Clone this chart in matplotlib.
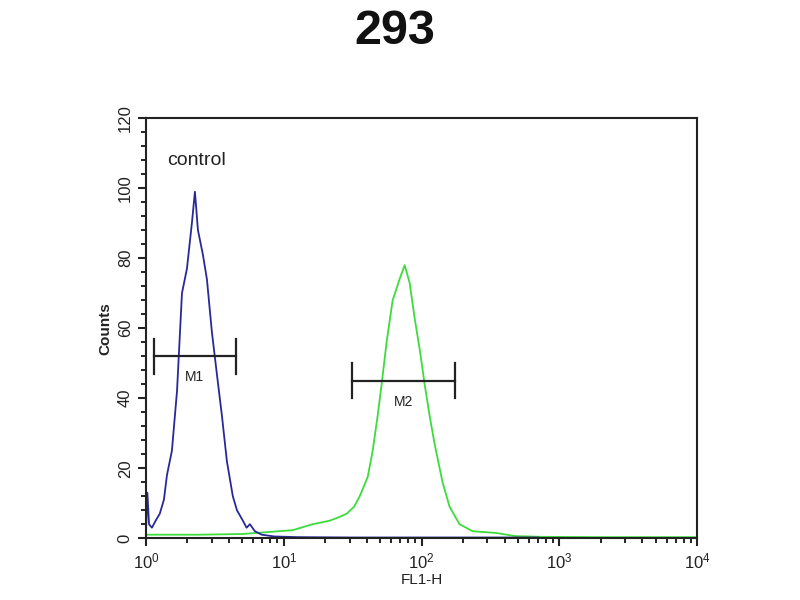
import matplotlib
matplotlib.use("Agg")
import matplotlib.pyplot as plt
from matplotlib.ticker import MultipleLocator, LogLocator, LogFormatterMathtext, NullFormatter
import numpy as np

plt.rcParams['font.family'] = ['Liberation Sans', 'DejaVu Sans']
plt.rcParams['mathtext.fontset'] = 'custom'
plt.rcParams['mathtext.rm'] = 'Liberation Sans'
plt.rcParams['mathtext.it'] = 'Liberation Sans'

title = "293"
x_label = "FL1-H"
y_label = "Counts"
sample_label = "control"

# control histogram (blue): log10 of FL1-H, counts
control_log = [0.0, 0.01, 0.022, 0.043, 0.07, 0.10, 0.13, 0.152, 0.188, 0.225, 0.261, 0.297,
               0.333, 0.355, 0.377, 0.413, 0.442, 0.478, 0.514, 0.551, 0.587, 0.630,
               0.66, 0.703, 0.73, 0.754, 0.79, 0.84, 0.93, 1.1, 1.5, 2.0, 2.5, 2.85]
control_counts = [2, 13, 4, 3, 5, 7, 11, 18, 25, 42, 70, 77,
                  90, 99, 88, 81, 74, 59, 47, 35, 22, 12,
                  8, 5, 3, 4, 2, 1, 0.5, 0.3, 0.2, 0.2, 0.2, 0.2]

# sample histogram (green)
sample_log = [0.0, 0.16, 0.39, 0.70, 0.90, 1.065, 1.21, 1.333, 1.40, 1.457, 1.51, 1.551,
              1.609, 1.645, 1.681, 1.71, 1.746, 1.79, 1.84, 1.877, 1.913,
              1.949, 1.986, 2.022, 2.058, 2.094, 2.152, 2.203, 2.275,
              2.37, 2.54, 2.68, 2.86, 3.29, 4.0]
sample_counts = [1, 1, 1, 1.2, 1.8, 2.3, 4, 5, 6, 7, 9, 12,
                 17.5, 25, 35, 44, 56, 68, 74, 78, 73,
                 63, 54, 44, 35, 27, 16, 9, 4,
                 2, 1.5, 0.6, 0.4, 0.3, 0.3]

# markers: (name, low, high, level)
marker_names = ["M1", "M2"]
marker_low = [1.14, 31]
marker_high = [4.49, 174]
marker_level = [52, 45]

fig = plt.figure(figsize=(8, 6), dpi=100)
ax = fig.add_axes([0.1825, 0.103, 0.689, 0.7])

ax.plot(10 ** np.array(sample_log), sample_counts, color='#3ddc3d', lw=1.3)
ax.plot(10 ** np.array(control_log), control_counts, color='#28289a', lw=1.3)

for name, lo, hi, lev in zip(marker_names, marker_low, marker_high, marker_level):
    ax.plot([lo, hi], [lev, lev], color='#222222', lw=1.6)
    ax.plot([lo, lo], [lev - 5, lev + 5], color='#222222', lw=1.6)
    ax.plot([hi, hi], [lev - 5, lev + 5], color='#222222', lw=1.6)
    ax.text(np.sqrt(lo * hi), lev - 4, name, ha='center', va='top', fontsize=10, color='#222222')

ax.text(1.42, 108, sample_label, fontsize=14, color='#222222', va='center')

ax.set_xscale('log')
ax.set_xlim(1, 1e4)
ax.set_ylim(0, 120)
ax.yaxis.set_major_locator(MultipleLocator(20))
ax.yaxis.set_minor_locator(MultipleLocator(4))
ax.xaxis.set_major_locator(LogLocator(base=10, numticks=10))
ax.xaxis.set_minor_locator(LogLocator(base=10, subs=np.arange(2, 10), numticks=20))
ax.xaxis.set_major_formatter(LogFormatterMathtext())
ax.xaxis.set_minor_formatter(NullFormatter())
ax.tick_params(axis='both', which='major', direction='out', length=6, width=1.5, labelsize=12, colors='#222222')
ax.tick_params(axis='both', which='minor', direction='out', length=3.5, width=1.2)
for lab in ax.get_yticklabels():
    lab.set_rotation(90)
    lab.set_va('center')
for s in ax.spines.values():
    s.set_linewidth(1.5)
    s.set_color('#222222')

ax.set_xlabel(x_label, fontsize=11, labelpad=1, color='#222222')
ax.set_ylabel(y_label, fontsize=11, labelpad=4, color='#222222', fontweight='bold')
fig.text(0.494, 0.948, title, ha='center', va='center', fontsize=35, fontweight='bold', color='#111111')

fig.savefig("out.png", dpi=100)
